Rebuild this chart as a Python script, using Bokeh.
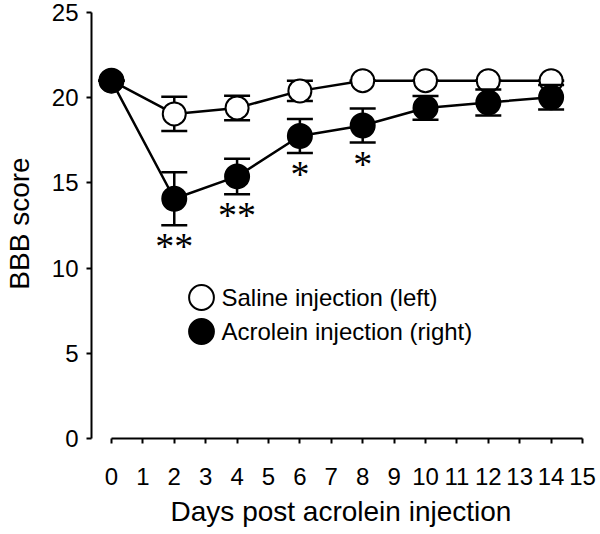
from bokeh.plotting import figure
from bokeh.models import Range1d, FixedTicker, Legend, LegendItem, ColumnDataSource, Label
from bokeh.embed import file_html
from bokeh.resources import INLINE
from bokeh.core.properties import value

# ---- data ----
days = [0, 2, 4, 6, 8, 10, 12, 14]
saline = [21.0, 19.05, 19.4, 20.4, 21.0, 21.0, 21.0, 21.0]
saline_err = [0.0, 1.0, 0.72, 0.6, 0.0, 0.0, 0.0, 0.0]
acrolein = [21.0, 14.07, 15.38, 17.75, 18.37, 19.4, 19.72, 20.03]
acrolein_err = [0.0, 1.55, 1.04, 1.0, 1.0, 0.7, 0.76, 0.72]

sig_days = [2, 4, 6, 8]
sig_labels = ["**", "**", "*", "*"]

series_names = ["Saline injection (left)", "Acrolein injection (right)"]

x_ticks = list(range(0, 16))
y_ticks = [0, 5, 10, 15, 20, 25]

FONT = "Liberation Sans"

p = figure(width=600, height=534, output_backend="svg", toolbar_location=None,
           x_range=Range1d(-0.6356, 15.254), y_range=Range1d(0, 25.235),
           min_border_left=90, min_border_right=10, min_border_top=8, min_border_bottom=96)
p.outline_line_color = None
p.xgrid.visible = False
p.ygrid.visible = False
p.background_fill_color = "white"
p.border_fill_color = "white"


def series(mean, err, fill, size):
    lo = [m - e for m, e in zip(mean, err)]
    hi = [m + e for m, e in zip(mean, err)]
    src = ColumnDataSource(dict(x=days, y=mean, lo=lo, hi=hi))
    p.line("x", "y", source=src, line_color="black", line_width=2.5)
    p.segment(x0="x", y0="lo", x1="x", y1="hi", source=src, line_color="black", line_width=2.5)
    p.scatter("x", "lo", source=src, marker="dash", size=26, line_color="black", line_width=2.5)
    p.scatter("x", "hi", source=src, marker="dash", size=26, line_color="black", line_width=2.5)
    r = p.scatter("x", "y", source=src, marker="circle", size=size,
                  fill_color=fill, line_color="black", line_width=2)
    return r, lo


r_sal, _ = series(saline, saline_err, "white", 23)
r_acr, acr_lo = series(acrolein, acrolein_err, "black", 24)

# significance asterisks below the acrolein error bars
sig_y = [acr_lo[days.index(d)] for d in sig_days]
p.text(x=sig_days, y=sig_y, text=sig_labels, text_font=value("Liberation Serif"),
       text_font_size="38px", text_align="center", text_baseline="top", y_offset=0,
       text_color="black")

# axes
for ax in (p.xaxis[0], p.yaxis[0]):
    ax.axis_line_width = 2
    ax.axis_line_color = "black"
    ax.major_tick_line_width = 2
    ax.major_tick_line_color = "black"
    ax.major_tick_in = 0
    ax.major_tick_out = 5
    ax.minor_tick_line_color = None
    ax.major_label_text_font = FONT
    ax.major_label_text_font_size = "24px"
    ax.major_label_text_color = "black"
    ax.axis_label_text_font = FONT
    ax.axis_label_text_font_size = "28px"
    ax.axis_label_text_font_style = "normal"
    ax.axis_label_text_color = "black"

p.xaxis.ticker = FixedTicker(ticks=x_ticks)
p.yaxis.ticker = FixedTicker(ticks=y_ticks)
p.xaxis.bounds = (0, 15)
p.yaxis.bounds = (0, 25)
p.xaxis.axis_label = "Days post acrolein injection"
p.yaxis.axis_label = "BBB score"
p.xaxis.major_label_standoff = 24
p.xaxis.axis_label_standoff = 8
p.yaxis.major_label_standoff = 8
p.yaxis.axis_label_standoff = 14

# key: one legend per series (marker only), text as labels beside the markers
key_rows = [(r_sal, 110, 141), (r_acr, 76, 107)]
for (rend, ly, ty), name in zip(key_rows, series_names):
    lg = Legend(items=[LegendItem(label=value(""), renderers=[rend])],
                location=(79, ly), orientation="vertical",
                glyph_width=62, glyph_height=62, label_height=62,
                label_standoff=0, padding=0, margin=0,
                border_line_color=None, background_fill_alpha=0)
    p.add_layout(lg)
    p.add_layout(Label(x=130, y=ty, x_units="screen", y_units="screen", text=name,
                       text_font=FONT, text_font_size="24px", text_color="black",
                       text_baseline="middle", text_align="left"))

open("out.html", "w").write(file_html(p, INLINE))
